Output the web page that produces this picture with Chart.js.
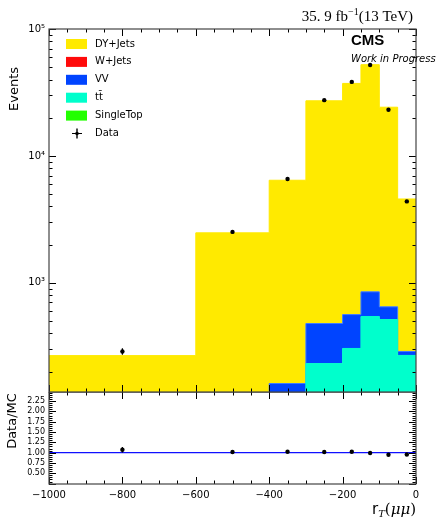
<!DOCTYPE html>
<html>
<head>
<meta charset="utf-8">
<script src="https://cdn.jsdelivr.net/npm/chart.js@4.4.0/dist/chart.umd.min.js"></script>
<style>
  body { margin: 0; background: #fff; }
  #wrap { position: relative; width: 437px; height: 521px; }
  #topChart { position: absolute; left: 0; top: 0; }
  #ratioChart { position: absolute; left: 0; top: 392px; }
</style>
</head>
<body>
<div id="wrap">
  <canvas id="topChart" width="437" height="394"></canvas>
  <canvas id="ratioChart" width="437" height="129"></canvas>
</div>
<script>
// bin edges and centres of r_T(mumu)
const edges = [-1000, -600, -400, -300, -200, -150, -100, -50, 0];
const centers = [-800, -500, -350, -250, -175, -125, -75, -25];

// MC components, events per bin
const dyJets = [232, 2350, 6270, 26700, 36700, 51500, 23550, 4290];
const wJets = [1, 2, 1, 2, 1, 2, 1, 1];
const vv = [18, 65, 61, 247, 258, 306, 133, 20];
const ttbar = [12, 50, 92, 219, 294, 528, 502, 264];
const singleTop = [4, 10, 8, 12, 10, 15, 12, 4];

// data and its uncertainty
const dataEvents = [288, 2520, 6580, 27500, 38300, 52000, 23100, 4380];
const dataErr = [17, 50, 81, 166, 196, 228, 152, 66];

// ratio panel
const ratio = [1.07, 1.015, 1.02, 1.015, 1.02, 0.99, 0.95, 0.955];
const ratioErr = [0.065, 0.02, 0.013, 0.006, 0.005, 0.004, 0.006, 0.015];

const xTickValues = [-1000, -800, -600, -400, -200, 0];
const ratioTickLabels = ['0.50', '0.75', '1.00', '1.25', '1.50', '1.75', '2.00', '2.25'];

const FONT = "'DejaVu Sans'";

// stack bottom -> top
const stack = [
  { label: 'SingleTop', vals: singleTop, color: '#22ff00', edge: '#22ff00' },
  { label: 'tt\u0304', vals: ttbar, color: '#00ffcc', edge: '#00ffcc' },
  { label: 'VV', vals: vv, color: '#0044ff', edge: '#3d7bff' },
  { label: 'W+Jets', vals: wJets, color: '#ff0a0a', edge: 'rgba(0,0,0,0)' },
  { label: 'DY+Jets', vals: dyJets, color: '#ffea00', edge: '#ffea00' }
];

function stepPoints(vals) {
  const pts = vals.map((v, i) => ({ x: edges[i], y: v }));
  pts.push({ x: edges[edges.length - 1], y: vals[vals.length - 1] });
  return pts;
}

let running = new Array(centers.length).fill(0);
const stackSets = stack.map((s, k) => {
  running = running.map((r, i) => r + s.vals[i]);
  return {
    label: s.label,
    data: stepPoints(running.slice()),
    stepped: 'before',
    borderColor: s.edge,
    backgroundColor: s.color,
    borderWidth: 1,
    pointRadius: 0,
    fill: k === 0 ? 'start' : '-1',
    order: 2
  };
});

function line(ctx, x1, y1, x2, y2) {
  ctx.beginPath(); ctx.moveTo(x1, y1); ctx.lineTo(x2, y2); ctx.stroke();
}

// inward ticks on all four sides, frame, error bars
const frameTicks = {
  id: 'frameTicks',
  afterDraw(chart, args, opts) {
    const ctx = chart.ctx, a = chart.chartArea;
    const xs = chart.scales.x, ys = chart.scales.y;
    ctx.save();
    ctx.strokeStyle = '#000';
    ctx.lineWidth = 1;
    for (let v = -1000; v <= 0; v += 50) {
      const px = Math.round(xs.getPixelForValue(v)) + 0.5;
      const len = v % 200 === 0 ? 7 : 3.5;
      line(ctx, px, a.top, px, a.top + len);
      line(ctx, px, a.bottom, px, a.bottom - len);
    }
    opts.yTicks(ys).forEach(t => {
      const py = Math.round(ys.getPixelForValue(t.v)) + 0.5;
      const len = t.major ? 7 : 3.5;
      line(ctx, a.left, py, a.left + len, py);
      line(ctx, a.right, py, a.right - len, py);
    });
    // error bars
    ctx.lineWidth = 1.2;
    opts.errors.vals.forEach((v, i) => {
      const px = xs.getPixelForValue(centers[i]);
      line(ctx, px, ys.getPixelForValue(v - opts.errors.err[i]), px, ys.getPixelForValue(v + opts.errors.err[i]));
    });
    ctx.strokeStyle = '#444';
    ctx.lineWidth = 1.2;
    ctx.strokeRect(a.left, a.top, a.right - a.left, a.bottom - a.top);
    if (opts.texts) opts.texts(ctx, a);
    ctx.restore();
  }
};

function drawTopTexts(ctx, a) {
  // legend
  ctx.textBaseline = 'middle';
  ctx.textAlign = 'left';
  ctx.font = '10px ' + FONT;
  const rows = stack.slice().reverse();
  rows.forEach((s, i) => {
    const cy = 44 + i * 17.9;
    ctx.fillStyle = s.color;
    ctx.fillRect(66, cy - 5, 21, 10);
    ctx.fillStyle = '#000';
    ctx.fillText(s.label, 95, cy);
  });
  const dy = 44 + 5 * 17.9;
  ctx.strokeStyle = '#000';
  ctx.lineWidth = 1;
  line(ctx, 72, dy, 82, dy);
  ctx.lineWidth = 1.4;
  line(ctx, 77, dy - 5, 77, dy + 5);
  ctx.beginPath(); ctx.arc(77, dy, 1.8, 0, Math.PI * 2); ctx.fillStyle = '#000'; ctx.fill();
  ctx.fillText('Data', 95, dy);

  // CMS label
  ctx.textBaseline = 'alphabetic';
  ctx.font = "bold 15px 'Liberation Sans'";
  ctx.fillText('CMS', 351, 45);
  ctx.font = 'oblique 10px ' + FONT;
  ctx.fillText('Work in Progress', 351, 62);

  // luminosity
  const big = "15px 'Liberation Serif'", small = "10px 'Liberation Serif'";
  const parts = [['35. 9 fb', big, 0], ['\u22121', small, -6], ['(13 TeV)', big, 0]];
  let w = 0;
  parts.forEach(p => { ctx.font = p[1]; w += ctx.measureText(p[0]).width; });
  let x = 413 - w;
  parts.forEach(p => { ctx.font = p[1]; ctx.fillText(p[0], x, 21 + p[2]); x += ctx.measureText(p[0]).width; });

  // y title
  ctx.save();
  ctx.translate(15, 89);
  ctx.rotate(-Math.PI / 2);
  ctx.textAlign = 'center';
  ctx.textBaseline = 'middle';
  ctx.font = '13px ' + FONT;
  ctx.fillText('Events', 0, 0);
  ctx.restore();
}

function drawRatioTexts(ctx, a) {
  ctx.fillStyle = '#000';
  ctx.save();
  ctx.translate(13, 29);
  ctx.rotate(-Math.PI / 2);
  ctx.textAlign = 'center';
  ctx.textBaseline = 'middle';
  ctx.font = '13px ' + FONT;
  ctx.fillText('Data/MC', 0, 0);
  ctx.restore();

  // x title r_T(mu mu)
  ctx.textBaseline = 'alphabetic';
  const parts = [['r', "15px 'DejaVu Sans'", 0], ['T', "italic 10px 'DejaVu Serif'", 3], ['(', "15px 'DejaVu Serif'", 0], ['\u03bc\u03bc', "italic 15px 'DejaVu Serif'", 0], [')', "15px 'DejaVu Serif'", 0]];
  let w = 0;
  parts.forEach(p => { ctx.font = p[1]; w += ctx.measureText(p[0]).width; });
  let x = 416 - w;
  parts.forEach(p => { ctx.font = p[1]; ctx.fillText(p[0], x, 122 + p[2]); x += ctx.measureText(p[0]).width; });
}

const fixedY = (w) => function (scale) {
  scale.width = w;
  scale.paddingTop = 0;
  scale.paddingBottom = 0;
};

new Chart(document.getElementById('topChart'), {
  type: 'line',
  data: {
    datasets: stackSets.concat([{
      label: 'Data',
      data: centers.map((c, i) => ({ x: c, y: dataEvents[i] })),
      showLine: false,
      pointRadius: 2.2,
      pointBackgroundColor: '#000',
      pointBorderWidth: 0,
      order: 0
    }])
  },
  options: {
    responsive: false,
    animation: false,
    layout: { autoPadding: false, padding: { left: 0, right: 21, top: 29, bottom: 2 } },
    plugins: {
      legend: { display: false },
      tooltip: { enabled: false },
      frameTicks: {
        yTicks: () => {
          const t = [];
          for (let e = 2; e <= 4; e++) for (let m = 1; m <= 9; m++) {
            const v = m * Math.pow(10, e);
            if (v >= 138) t.push({ v: v, major: m === 1 });
          }
          t.push({ v: 1e5, major: true });
          return t;
        },
        errors: { vals: dataEvents, err: dataErr },
        texts: drawTopTexts
      }
    },
    scales: {
      x: { type: 'linear', min: -1000, max: 0, display: false },
      y: {
        type: 'logarithmic', min: 138, max: 100000,
        grid: { display: false, drawTicks: false },
        border: { display: false },
        afterFit: fixedY(49),
        ticks: {
          autoSkip: false,
          padding: 4,
          color: '#000',
          font: { family: 'DejaVu Sans', size: 10 },
          callback: (v) => {
            const e = Math.log10(v);
            if (Math.abs(e - Math.round(e)) > 1e-9) return '';
            const sup = { 2: '\u00b2', 3: '\u00b3', 4: '\u2074', 5: '\u2075' };
            return '10' + sup[Math.round(e)];
          }
        }
      }
    }
  },
  plugins: [frameTicks]
});

new Chart(document.getElementById('ratioChart'), {
  type: 'line',
  data: {
    datasets: [{
      label: 'unity',
      data: [{ x: -1000, y: 1 }, { x: 0, y: 1 }],
      borderColor: '#1010ff',
      borderWidth: 1.3,
      pointRadius: 0,
      order: 1
    }, {
      label: 'Data/MC',
      data: centers.map((c, i) => ({ x: c, y: ratio[i] })),
      showLine: false,
      pointRadius: 2.2,
      pointBackgroundColor: '#000',
      pointBorderWidth: 0,
      order: 0
    }]
  },
  options: {
    responsive: false,
    animation: false,
    layout: { autoPadding: false, padding: { left: 0, right: 21, top: 0, bottom: 0 } },
    plugins: {
      legend: { display: false },
      tooltip: { enabled: false },
      frameTicks: {
        yTicks: () => {
          const t = [];
          for (let k = 5; k <= 49; k++) t.push({ v: k * 0.05, major: k % 5 === 0 });
          return t;
        },
        errors: { vals: ratio, err: ratioErr },
        texts: drawRatioTexts
      }
    },
    scales: {
      x: {
        type: 'linear', min: -1000, max: 0,
        afterFit: (s) => { s.height = 37; s.paddingLeft = 0; s.paddingRight = 0; },
        afterBuildTicks: (s) => { s.ticks = xTickValues.map(v => ({ value: v })); },
        grid: { display: false, drawTicks: false },
        border: { display: false },
        ticks: {
          autoSkip: false, maxRotation: 0, padding: 5, color: '#000',
          font: { family: 'DejaVu Sans', size: 10 },
          callback: (v) => v < 0 ? '\u2212' + Math.abs(v) : String(v)
        }
      },
      y: {
        type: 'linear', min: 0.24, max: 2.47,
        afterFit: fixedY(49),
        afterBuildTicks: (s) => { s.ticks = ratioTickLabels.map(l => ({ value: parseFloat(l) })); },
        grid: { display: false, drawTicks: false },
        border: { display: false },
        ticks: {
          autoSkip: false, padding: 4, color: '#000',
          font: { family: 'DejaVu Sans', size: 8 },
          callback: (v) => v.toFixed(2)
        }
      }
    }
  },
  plugins: [frameTicks]
});
</script>
</body>
</html>
